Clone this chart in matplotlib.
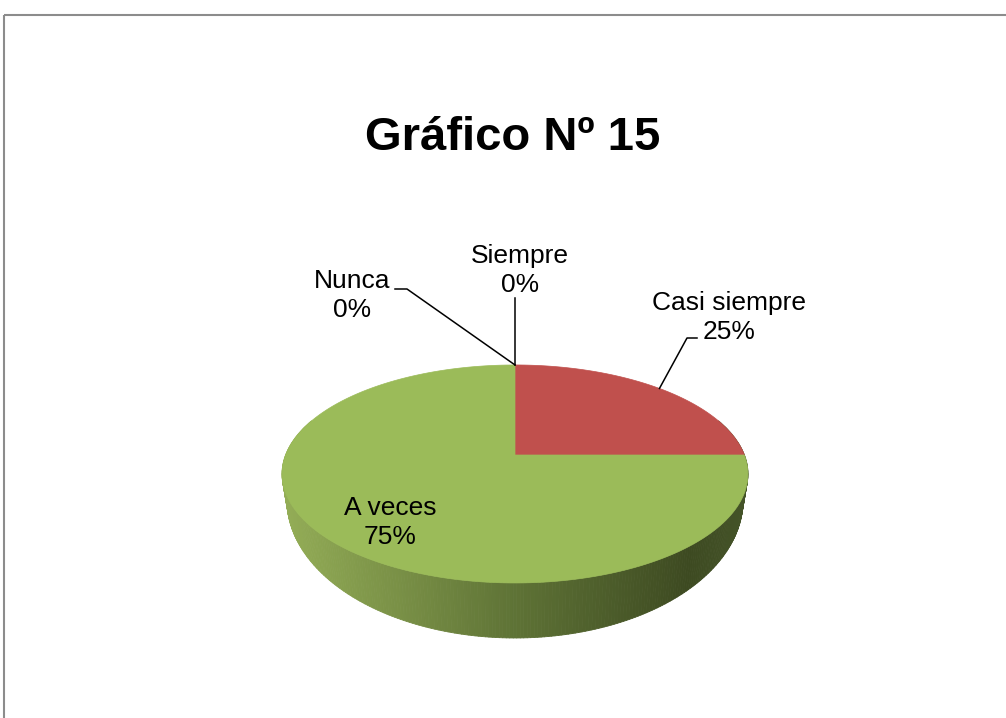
import numpy as np
import matplotlib.pyplot as plt
from matplotlib.patches import Polygon, Rectangle
from matplotlib.collections import PolyCollection

categorias = ["Siempre", "Casi siempre", "A veces", "Nunca"]
porcentajes = [0, 25, 75, 0]
colores = ["#4F81BD", "#C0504D", "#9BBB59", "#8064A2"]
titulo = "Gráfico Nº 15"

plt.rcParams['font.family'] = ['Liberation Sans', 'DejaVu Sans']

fig = plt.figure(figsize=(10.06, 7.18), dpi=100)
ax = fig.add_axes([0, 0, 1, 1])
ax.set_xlim(0, 1006)
ax.set_ylim(718, 0)
ax.axis('off')

# perspective pie: centre, radii and tilt of the top and bottom faces
cx, cy = 515, 455
a_top, b_top, k = 105.7, 229.4, 0.174
cy_bot, a_bot, b_bot = 476, 133.8, 224.6


def top(phi, r=1.0):
    s = 1 + k * r * np.sin(phi)
    return cx + b_top * r * np.cos(phi) / s, cy - a_top * r * np.sin(phi) / s


def bot(phi):
    s = 1 + k * np.sin(phi)
    return cx + b_bot * np.cos(phi) / s, cy_bot - a_bot * np.sin(phi) / s


# side of the cylinder, shaded along x
stops_x = [282, 515, 690, 750]
stops_c = np.array([[0.58, 0.68, 0.34], [0.37, 0.45, 0.21], [0.24, 0.29, 0.13], [0.27, 0.33, 0.16]])
phis = np.linspace(np.radians(160), np.radians(380), 300)
quads, cols, depth = [], [], []
for p0, p1 in zip(phis[:-1], phis[1:]):
    x0, y0 = top(p0)
    x1, y1 = top(p1)
    x2, y2 = bot(p1)
    x3, y3 = bot(p0)
    quads.append([(x0, y0), (x1, y1), (x2, y2), (x3, y3)])
    xm = (x0 + x1) / 2
    cols.append([np.interp(xm, stops_x, stops_c[:, i]) for i in range(3)])
    depth.append(np.sin((p0 + p1) / 2))
order = np.argsort(depth)[::-1]
side = PolyCollection([quads[i] for i in order], facecolors=[cols[i] for i in order],
                      edgecolors=[cols[i] for i in order], linewidths=0.6)
ax.add_collection(side)

# top face wedges, clockwise from 12 o'clock
start = np.pi / 2
mids = []
for v, c in zip(porcentajes, colores):
    span = 2 * np.pi * v / 100
    mids.append(start - span / 2)
    if v > 0:
        t = np.linspace(start, start - span, 200)
        xs, ys = top(t)
        pts = [(cx, cy)] + list(zip(xs, ys))
        ax.add_patch(Polygon(pts, closed=True, facecolor=c, edgecolor=c, linewidth=0.5))
    start -= span

# labels: text position (first baseline), leader line elbow (None = inside)
lab_pos = {
    "Siempre": (520, 263),
    "Casi siempre": (729, 310),
    "A veces": (390, 515),
    "Nunca": (352, 288),
}
elbows = {
    "Siempre": [(515, 298)],
    "Casi siempre": [(687, 338), (697, 338)],
    "A veces": None,
    "Nunca": [(407, 289), (395, 289)],
}
for cat, v, m in zip(categorias, porcentajes, mids):
    tx, ty = lab_pos[cat]
    ax.text(tx, ty, cat, ha='center', va='baseline', fontsize=19, color='black')
    ax.text(tx, ty + 29, f"{v}%", ha='center', va='baseline', fontsize=19, color='black')
    if elbows[cat] is not None:
        ax_, ay_ = top(m)
        pts = [(ax_, ay_)] + elbows[cat]
        ax.plot([p[0] for p in pts], [p[1] for p in pts], color='black', linewidth=1.1)

ax.text(513, 150, titulo, ha='center', va='baseline', fontsize=34, fontweight='bold')

# chart area border
ax.add_patch(Rectangle((4, 15), 1010, 720, fill=False, edgecolor='#8c8c8c', linewidth=1.5))

fig.savefig('out.png', dpi=100)
